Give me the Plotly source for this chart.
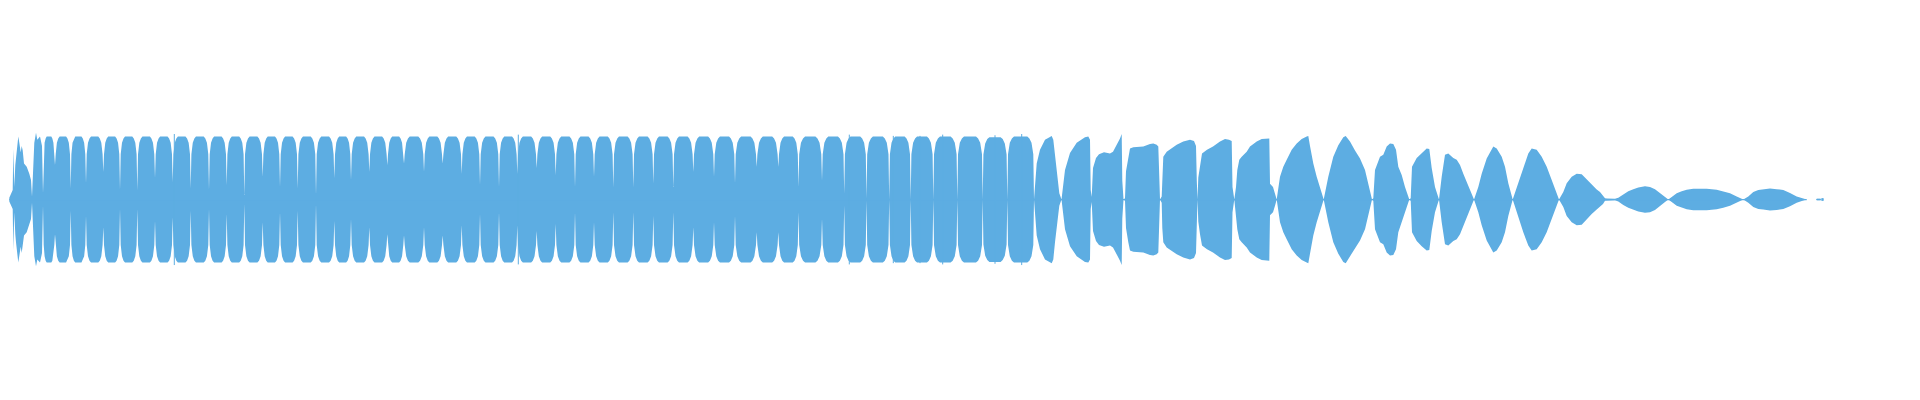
import plotly.graph_objects as go

# ---------------- data ----------------
# amplitude unit: 1.0 = full peak; x in time columns

# attack transient at the start
head_x = [9.3, 10, 11.7, 12.7, 13.3, 14.3, 15.3, 16, 18.3, 19.3, 20.7, 21.7, 22.7, 24,
          26.7, 29.3, 31, 32, 32.7, 33.3, 34.3, 36, 37.3, 40, 42]
head_amp = [0.03, 0.06, 0.12, 0.15, 0.8, 0.2, 0.55, 0.68, 1.0, 0.9, 0.75, 0.85, 0.78, 0.57,
            0.52, 0.41, 0.31, 0.05, 0.3, 0.52, 0.9, 1.06, 0.95, 1.0, 0.85]

# steady section: gap positions between flat-topped lobes, amplitude at each gap
gap_x = [43, 55, 70.7, 86, 103.3, 120, 137.3, 155, 172.7, 190.7, 209, 226.7, 244.3, 262.7,
         280, 297.7, 316, 334.3, 351, 369.3, 387.3, 404, 424, 442.7, 461.7, 480, 499, 517.3,
         536.7, 555.7, 575, 594, 613.3, 633.3, 653.3, 673.3, 693.3, 714, 735, 756.7, 778.3,
         798.5, 822, 844.2, 866.5, 889.2, 910.7, 933.3, 957.3, 982.7, 1007.3, 1034]
gap_amp = [0.1, 0.55, 0.18, 0.26, 0.44, 0.15, 0.15, 0.34, 0.28, 0.18, 0.15, 0.23, 0.07, 0.36,
           0.2, 0.18, 0.07, 0.34, 0.31, 0.44, 0.55, 0.57, 0.44, 0.57, 0.41, 0.23, 0.2, 0.41,
           0.5, 0.39, 0.2, 0.36, 0.2, 0.2, 0.26, 0.2, 0.44, 0.36, 0.26, 0.52, 0.52,
           0.2, 0.3, 0.1, 0.02, 0.0, 0.0, 0.0, 0.0, 0.0, 0.0, 0.0]
lobe_peak = [1.0, 1.0, 1.0, 1.0, 1.0, 1.0, 1.0, 1.0, 1.0, 1.0, 1.0, 1.0, 1.0, 1.0,
             1.0, 1.0, 1.0, 1.0, 1.0, 1.0, 1.0, 1.0, 1.0, 1.0, 1.0, 1.0, 1.0, 1.0,
             1.0, 1.0, 1.0, 1.0, 1.0, 1.0, 1.0, 1.0, 1.0, 1.0, 1.0, 1.0, 1.0,
             1.0, 1.0, 1.0, 1.0, 1.0, 1.0, 1.0, 1.0, 0.99, 1.0]

# isolated peaks poking out of the steady section
spike_x = [174.3, 518.3, 849.3, 893.3, 920, 942.7, 995, 1021.7]
spike_amp = [1.04, 1.03, 1.03, 1.01, 1.01, 1.03, 1.02, 1.04]

# decaying section: envelope points
tail_x = [1036.7, 1040, 1045, 1051.7, 1053.3, 1055, 1056.7, 1059.3, 1061.5,
          1065, 1070, 1076.7, 1085, 1088.3, 1090, 1090.7, 1091.7,
          1093, 1096, 1099, 1104, 1110, 1113, 1117, 1120, 1121.7, 1122.3, 1123.5,
          1125, 1126, 1128.3, 1130, 1133.3, 1143.3, 1150, 1153.3, 1156.7, 1158.3, 1159, 1160,
          1161.7, 1162.3, 1163.3, 1166.7, 1176.7, 1183.3, 1190, 1194, 1196, 1196.8, 1197.5,
          1198.3, 1200, 1202, 1207, 1213, 1220, 1225, 1229, 1231.7, 1232.5, 1234.3,
          1236, 1237.3, 1239.3, 1241.7, 1246.7, 1250, 1256.7, 1261.7, 1269.3, 1270, 1273, 1275, 1276.7,
          1280, 1283.3, 1286.7, 1291.7, 1296.7, 1301.7, 1306.7, 1308.3, 1310, 1313.3, 1316.7, 1320, 1323.7,
          1328.3, 1333.3, 1338.3, 1343.3, 1345.7, 1350, 1355, 1360, 1365, 1368.3, 1372,
          1373.3, 1375, 1380, 1383.3, 1386.7, 1390, 1393.3, 1396, 1398.3, 1401.7, 1405, 1409.3,
          1410.7, 1412, 1416.7, 1421.7, 1426.7, 1429.3, 1431.7, 1435, 1439,
          1441.7, 1445, 1448.3, 1453.3, 1456.7, 1460, 1463.3, 1466.7, 1470, 1474,
          1478.3, 1481.7, 1486.7, 1493.3, 1496.7, 1501.7, 1505, 1508.3, 1512.7,
          1518.3, 1523.3, 1528.3, 1531.7, 1536.7, 1541.7, 1546.7, 1551.7, 1559,
          1563.3, 1566.7, 1571.7, 1576.7, 1581.7, 1586.7, 1591.7, 1596.7, 1600, 1603, 1605, 1607, 1615,
          1618.3, 1623.3, 1628.3, 1633.3, 1638.3, 1645, 1650, 1655, 1660, 1665, 1668.3,
          1671.7, 1676.7, 1681.7, 1686.7, 1693.3, 1706.7, 1716.7, 1723.3, 1730, 1736.7, 1743.3,
          1748.3, 1753.3, 1758.3, 1763.3, 1770, 1776.7, 1783.3, 1790, 1796.7, 1803.3, 1806.7]
tail_amp = [0.57, 0.79, 0.95, 1.01, 0.95, 0.68, 0.41, 0.1, 0.0,
            0.47, 0.74, 0.9, 0.99, 1.0, 0.95, 0.15, 0.04,
            0.5, 0.66, 0.72, 0.75, 0.73, 0.76, 0.87, 0.97, 1.04, 0.3, 0.0,
            0.02, 0.45, 0.68, 0.81, 0.83, 0.84, 0.88, 0.89, 0.87, 0.84, 0.5, 0.0,
            0.05, 0.45, 0.68, 0.76, 0.87, 0.92, 0.95, 0.93, 0.85, 0.3, 0.0,
            0.35, 0.55, 0.73, 0.79, 0.84, 0.92, 0.96, 0.95, 0.93, 0.2, 0.0,
            0.2, 0.47, 0.63, 0.68, 0.76, 0.84, 0.92, 0.96, 0.97, 0.25, 0.2, 0.1, 0.0,
            0.36, 0.52, 0.63, 0.79, 0.89, 0.96, 1.0, 1.01, 0.85, 0.57, 0.36, 0.18, 0.0,
            0.36, 0.68, 0.86, 0.99, 1.01, 0.92, 0.78, 0.65, 0.47, 0.26, 0.0,
            0.02, 0.47, 0.68, 0.71, 0.84, 0.89, 0.88, 0.79, 0.52, 0.39, 0.2, 0.0,
            0.02, 0.52, 0.66, 0.74, 0.81, 0.8, 0.5, 0.2, 0.0,
            0.36, 0.71, 0.73, 0.66, 0.63, 0.55, 0.41, 0.28, 0.15, 0.0,
            0.2, 0.41, 0.65, 0.84, 0.81, 0.68, 0.52, 0.26, 0.0,
            0.26, 0.52, 0.73, 0.81, 0.79, 0.68, 0.52, 0.31, 0.0,
            0.12, 0.26, 0.36, 0.41, 0.40, 0.32, 0.23, 0.16, 0.12, 0.07, 0.02, 0.015, 0.012,
            0.03, 0.085, 0.13, 0.165, 0.19, 0.21, 0.2, 0.165, 0.106, 0.04, 0.0,
            0.04, 0.1, 0.13, 0.155, 0.17, 0.17, 0.155, 0.13, 0.1, 0.05, 0.0,
            0.05, 0.12, 0.15, 0.16, 0.175, 0.165, 0.15, 0.105, 0.05, 0.015, 0.0]

# trailing crumbs after the sound ends
crumb_x0 = [1816.7, 1821.7]
crumb_x1 = [1820.7, 1823.3]
crumb_amp = [0.008, 0.016]

# ---------------- styling ----------------
WAVE = "#5DADE2"
X_RANGE = [8, 1928]          # page body margin compensated
Y_RANGE = [-3.309, 3.040]

# ---------------- build envelope ----------------
env_x = list(head_x)
env_a = list(head_amp)
for i in range(len(gap_x) - 1):
    g0, g1 = gap_x[i], gap_x[i + 1]
    a0 = gap_amp[i]
    p = lobe_peak[i]
    w = g1 - g0
    c = min(0.25 * w, 6.0)
    env_x += [g0, g0 + 0.7, g0 + 0.7 + 0.3 * c, g0 + 0.7 + 0.65 * c, g0 + 0.7 + c,
              g1 - 0.7 - c, g1 - 0.7 - 0.65 * c, g1 - 0.7 - 0.3 * c, g1 - 0.7]
    env_a += [a0, 0.72 * p, 0.9 * p, 0.97 * p, p, p, 0.97 * p, 0.9 * p, 0.72 * p]
env_x.append(gap_x[-1])
env_a.append(gap_amp[-1])
env_x += tail_x
env_a += tail_amp

poly_x = env_x + env_x[::-1]
poly_y = env_a + [-a for a in env_a[::-1]]

fig = go.Figure()
fig.add_trace(go.Scatter(x=poly_x, y=poly_y, mode="lines", fill="toself",
                         fillcolor=WAVE, line=dict(width=0, color=WAVE),
                         hoverinfo="skip", showlegend=False))

# centre line (every column has at least one pixel)
fig.add_trace(go.Scatter(x=[env_x[0], env_x[-1]], y=[0, 0], mode="lines",
                         line=dict(width=1.2, color=WAVE), hoverinfo="skip",
                         showlegend=False))

sx, sy = [], []
for x, a in zip(spike_x, spike_amp):
    sx += [x, x, None]
    sy += [-a, a, None]
fig.add_trace(go.Scatter(x=sx, y=sy, mode="lines", line=dict(width=1, color=WAVE),
                         hoverinfo="skip", showlegend=False))

for x0, x1, a in zip(crumb_x0, crumb_x1, crumb_amp):
    fig.add_trace(go.Scatter(x=[x0, x1, x1, x0, x0], y=[a, a, -a, -a, a], mode="lines",
                             fill="toself", fillcolor=WAVE,
                             line=dict(width=0.8, color=WAVE),
                             hoverinfo="skip", showlegend=False))

fig.update_layout(
    width=1920, height=400,
    margin=dict(l=0, r=0, t=0, b=0),
    paper_bgcolor="white", plot_bgcolor="white",
    showlegend=False,
    xaxis=dict(range=X_RANGE, visible=False, fixedrange=True),
    yaxis=dict(range=Y_RANGE, visible=False, fixedrange=True),
)

fig.write_html("out.html")
